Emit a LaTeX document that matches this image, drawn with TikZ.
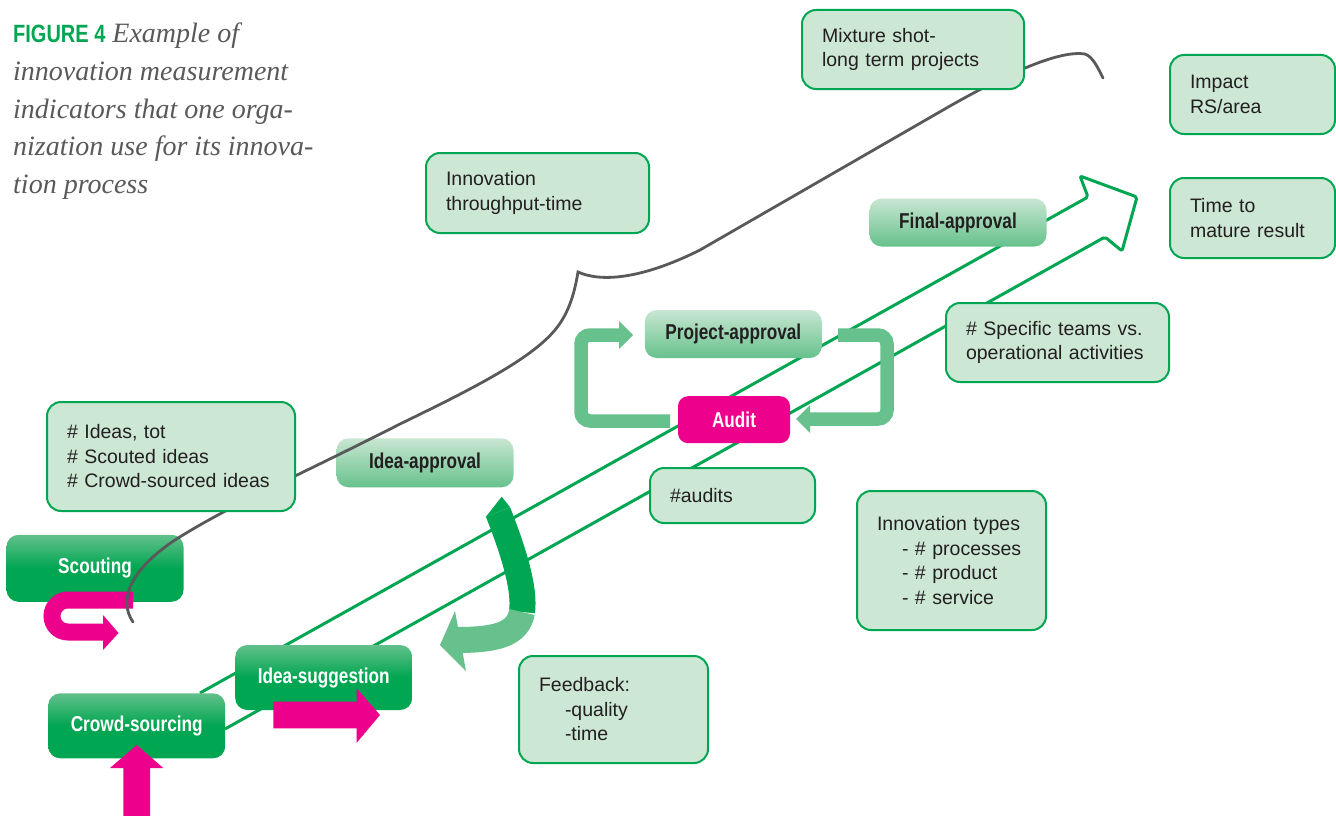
\documentclass[tikz,border=0pt]{standalone}
\usepackage{fontspec}
\setmainfont{Liberation Sans}
\newfontfamily\condb[FakeStretch=0.8]{Liberation Sans}
\newfontfamily\capserif{Liberation Serif}
\definecolor{gdark}{RGB}{0,166,81}
\definecolor{gmid}{RGB}{102,193,140}
\definecolor{gtop}{RGB}{98,192,138}
\definecolor{ltop}{RGB}{200,230,210}
\definecolor{boxfill}{RGB}{204,231,212}
\definecolor{mag}{RGB}{236,0,140}
\definecolor{grayline}{RGB}{88,89,91}
\definecolor{txt}{RGB}{35,31,32}
\definecolor{capgray}{RGB}{88,89,91}
\begin{document}
\begin{tikzpicture}[x=1pt,y=-1pt,
  info/.style={draw=gdark, line width=2pt, fill=boxfill, rounded corners=14pt, align=left,
    inner xsep=20pt, inner ysep=0pt, text=txt, font=\fontsize{19.5}{24.5}\selectfont},
  proc/.style={rounded corners=12pt, minimum width=177pt, minimum height=65pt, inner sep=0pt,
    text=white, font=\condb\bfseries\fontsize{21.5}{24}\selectfont,
    top color=gtop, bottom color=gdark, middle color=gdark},
  lproc/.style={rounded corners=12pt, minimum width=177pt, minimum height=48pt, inner sep=0pt,
    text=txt, font=\condb\bfseries\fontsize{21.5}{24}\selectfont,
    top color=ltop, bottom color=gmid},
  thinline/.style={draw=gdark, line width=3pt, line join=round, rounded corners=2pt},
  loopbar/.style={draw=gmid, line width=13.5pt, rounded corners=9pt},
  capline/.style={anchor=base west, inner sep=0pt, text=capgray, font=\capserif\itshape\fontsize{28}{37}\selectfont}
]
\useasboundingbox (0,0) rectangle (1336,816);

% ---- big outlined arrow (two parallel lines) ----
\coordinate (L1s) at (200,693);
\coordinate (L2s) at (225,729);
\coordinate (n1) at (1088,197);
\coordinate (b1) at (1080,176);
\coordinate (tip) at (1137,197);
\coordinate (b2) at (1122,251);
\coordinate (n2) at (1105,237);
\draw[thinline] (L1s) -- (n1) -- (b1) -- (tip) -- (b2) -- (n2) -- (L2s);

% ---- loop arrows around Project-approval / Audit ----
\coordinate (la0) at (670,421);
\coordinate (la1) at (620,335);
\draw[loopbar] (la0) -- (581,421) -- (581,335) -- (la1);
\fill[gmid] (619,321) -- (633,335) -- (619,349) -- cycle;
\coordinate (ra0) at (838,335);
\coordinate (ra1) at (809,419);
\draw[loopbar] (ra0) -- (887,335) -- (887,419) -- (ra1);
\fill[gmid] (810,405) -- (796,419) -- (810,433) -- cycle;

% ---- feedback arrow ----
\coordinate (fa0) at (498,512);
\coordinate (fa1) at (522,612);
\coordinate (fa2) at (456,640);
\draw[gdark, line width=26pt] (fa0) .. controls (515,555) and (525,590) .. (fa1);
\fill[gdark] (485.9,516.8) -- (501.7,496.7) -- (510.1,507.2) -- cycle;
\draw[gmid, line width=26pt] (fa1) .. controls (518,635) and (495,640) .. (fa2);
\fill[gmid] (455,611) -- (440,645) -- (466,671) -- cycle;

% ---- process nodes ----
\node[proc, minimum height=67pt] (scout) at (95,568.3) {Scouting};
\node[proc] (crowd) at (136.7,725.8) {Crowd-sourcing};
\node[proc] (sugg) at (323.7,677.5) {Idea-suggestion};
\node[lproc, minimum height=49pt] (iappr) at (425,462.8) {Idea-approval};
\node[lproc] (pappr) at (733.3,334) {Project-approval};
\node[lproc] (fappr) at (958,222.5) {Final-approval};
\node[rounded corners=10pt, fill=mag, minimum width=112pt, minimum height=47pt, inner sep=0pt,
  text=white, font=\condb\bfseries\fontsize{21.5}{24}\selectfont] (audit) at (734,419.7) {Audit};

% ---- magenta arrows ----
\draw[mag, line width=17pt, rounded corners=16pt] (133,600) -- (52,600) -- (52,632) -- (104,632);
\fill[mag] (103,615) -- (118.5,633) -- (103,650) -- cycle;
\fill[mag] (123.3,816) -- (123.3,768) -- (110,768) -- (136.7,745) -- (163.3,768) -- (150,768) -- (150,816) -- cycle;
\fill[mag] (273.3,701.7) -- (356.7,701.7) -- (356.7,688.3) -- (380,715) -- (356.7,742.7) -- (356.7,728.3) -- (273.3,728.3) -- cycle;

% ---- gray curve ----
\coordinate (gs) at (133,622);
\coordinate (gc) at (578,272);
\coordinate (ge) at (1103,78);
\draw[grayline, line width=2.8pt, line cap=round]
  (gs) .. controls (118,600) and (130,570) .. (175,540)
       .. controls (230,505) and (300,475) .. (400,424)
       .. controls (470,390) and (530,360) .. (555,330)
       .. controls (570,312) and (575,290) .. (gc)
       .. controls (600,282) and (640,280) .. (700,250)
       -- (950,106)
       .. controls (1010,72) and (1060,50) .. (1085,54)
       .. controls (1093,57) and (1098,68) .. (ge);

% ---- info boxes ----
\node[info, text width=182pt, minimum height=79pt] (mix) at (913,49.5) {Mixture shot-\\long term projects};
\node[info, text width=125pt, minimum height=79pt] (impact) at (1252.5,94.5) {Impact\\RS/area};
\node[info, text width=125pt, minimum height=80pt] (time) at (1252.5,218) {Time to\\mature result};
\node[info, text width=183pt, minimum height=80pt] (thru) at (537.5,193) {Innovation\\throughput-time};
\node[info, text width=183pt, minimum height=79pt] (spec) at (1057.5,342.5) {\# Specific teams vs.\\operational activities};
\node[info, text width=208pt, minimum height=109pt] (ideas) at (171,456.5) {\# Ideas, tot\\\# Scouted ideas\\\# Crowd-sourced ideas};
\node[info, text width=125pt, minimum height=55pt] (audits) at (732.5,495.5) {\#audits};
\node[info, text width=149pt, minimum height=139pt] (types) at (951.5,560.5) {Innovation types\\\hspace*{25pt}- \# processes\\\hspace*{25pt}- \# product\\\hspace*{25pt}- \# service};
\node[info, text width=149pt, minimum height=107pt] (feed) at (613.5,709.5) {Feedback:\\\hspace*{26pt}-quality\\\hspace*{26pt}-time};

% ---- caption ----
\node[capline] (cap1) at (13,43) {{\upshape\condb\bfseries\fontsize{25}{37}\selectfont\color{gdark}FIGURE 4} Example of};
\node[capline] (cap2) at (13,80.5) {innovation measurement};
\node[capline] (cap3) at (13,118) {indicators that one orga-};
\node[capline] (cap4) at (13,155.5) {nization use for its innova-};
\node[capline] (cap5) at (13,193) {tion process};
\end{tikzpicture}
\end{document}
